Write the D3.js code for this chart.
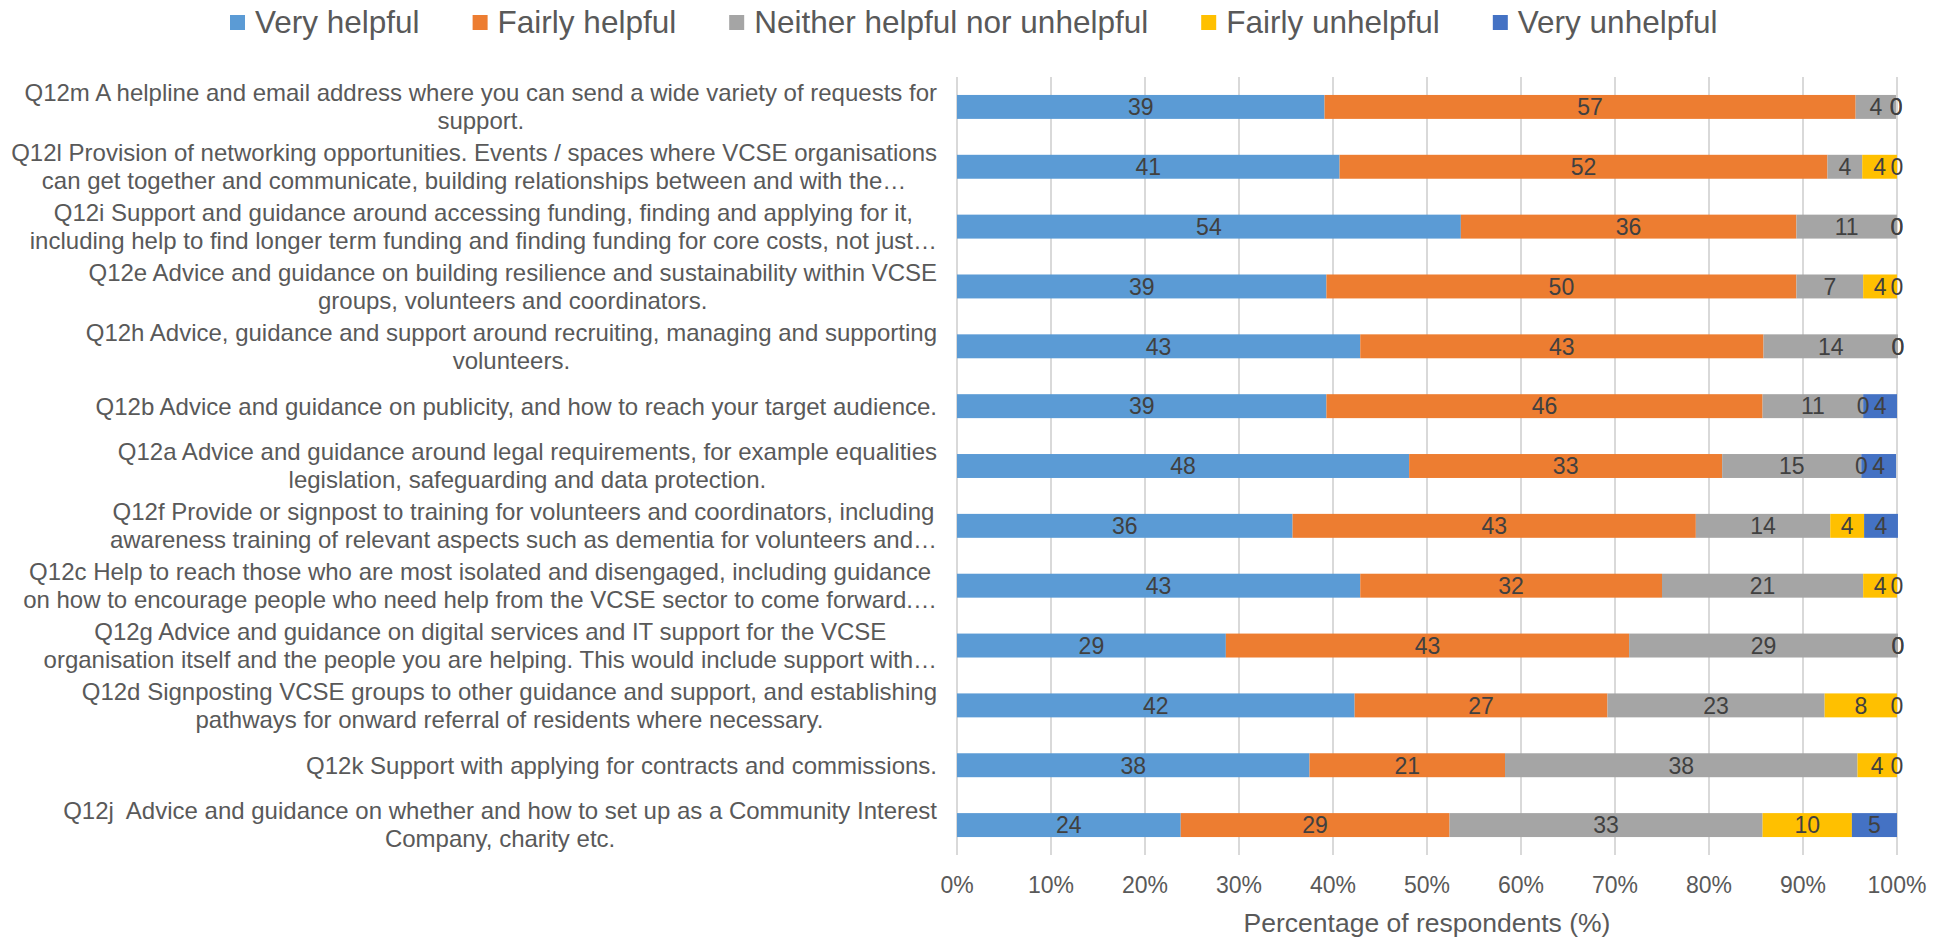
<!DOCTYPE html>
<html lang="en">
<head>
  <meta charset="UTF-8" />
  <title>Helpfulness of support - stacked bar</title>
  <style>
    body { margin: 0; background: #fff; font-family: "Liberation Sans", Arial, sans-serif; }
    svg { position: absolute; top: 0; left: 0; }
    .grid line { stroke: #d9d9d9; stroke-width: 2px; }
    .cat { font-size: 24px; fill: #595959; white-space: pre; }
    .tick-label { font-size: 23px; fill: #595959; }
    .axis-title { font-size: 26.5px; fill: #595959; }
    .legend text { font-size: 31.5px; fill: #595959; }
    .val { font-size: 23px; fill: #404040; }
  </style>
</head>
<body>

<svg id="chart"></svg>

<script src="https://d3js.org/d3.v7.min.js"></script>
<script>
  const width = 1952, height = 937;

  // category labels, already wrapped the way the original shows them
  const categories = [
    ["Q12m A helpline and email address where you can send a wide variety of requests for", "support."],
    ["Q12l Provision of networking opportunities. Events / spaces where VCSE organisations", "can get together and communicate, building relationships between and with the\u2026"],
    ["Q12i Support and guidance around accessing funding, finding and applying for it,", "including help to find longer term funding and finding funding for core costs, not just\u2026"],
    ["Q12e Advice and guidance on building resilience and sustainability within VCSE", "groups, volunteers and coordinators."],
    ["Q12h Advice, guidance and support around recruiting, managing and supporting", "volunteers."],
    ["Q12b Advice and guidance on publicity, and how to reach your target audience."],
    ["Q12a Advice and guidance around legal requirements, for example equalities", "legislation, safeguarding and data protection."],
    ["Q12f Provide or signpost to training for volunteers and coordinators, including", "awareness training of relevant aspects such as dementia for volunteers and\u2026"],
    ["Q12c Help to reach those who are most isolated and disengaged, including guidance", "on how to encourage people who need help from the VCSE sector to come forward.\u2026"],
    ["Q12g Advice and guidance on digital services and IT support for the VCSE", "organisation itself and the people you are helping. This would include support with\u2026"],
    ["Q12d Signposting VCSE groups to other guidance and support, and establishing", "pathways for onward referral of residents where necessary."],
    ["Q12k Support with applying for contracts and commissions."],
    ["Q12j  Advice and guidance on whether and how to set up as a Community Interest", "Company, charity etc."]
  ];

  const seriesNames = ["Very helpful", "Fairly helpful", "Neither helpful nor unhelpful", "Fairly unhelpful", "Very unhelpful"];
  const seriesColors = ["#5b9bd5", "#ed7d31", "#a5a5a5", "#ffc000", "#4472c4"];

  // % of respondents, one value per category (same order as categories)
  const veryHelpful     = [39.1, 40.7, 53.6, 39.3, 42.9, 39.3, 48.1, 35.7, 42.9, 28.6, 42.3, 37.5, 23.8];
  const fairlyHelpful   = [56.5, 51.9, 35.7, 50.0, 42.9, 46.4, 33.3, 42.9, 32.1, 42.9, 26.9, 20.8, 28.6];
  const neither         = [ 4.3,  3.7, 10.7,  7.1, 14.3, 10.7, 14.8, 14.3, 21.4, 28.6, 23.1, 37.5, 33.3];
  const fairlyUnhelpful = [ 0,    3.7,  0,    3.6,  0,    0,    0,    3.6,  3.6,  0,    7.7,  4.2,  9.5];
  const veryUnhelpful   = [ 0,    0,    0,    0,    0,    3.6,  3.7,  3.6,  0,    0,    0,    0,    4.8];

  const xTicks = [0, 10, 20, 30, 40, 50, 60, 70, 80, 90, 100];

  const seriesValues = [veryHelpful, fairlyHelpful, neither, fairlyUnhelpful, veryUnhelpful];
  const rows = categories.map((c, i) => {
    const r = { id: i };
    seriesNames.forEach((s, k) => r[s] = seriesValues[k][i]);
    return r;
  });

  const margin = { top: 77, left: 957, right: 55, bottom: 82 };

  const svg = d3.select("#chart").attr("width", width).attr("height", height);

  const x = d3.scaleLinear().domain([0, 100]).range([margin.left, width - margin.right]);
  const y = d3.scaleBand()
    .domain(rows.map(d => d.id))
    .range([margin.top, height - margin.bottom])
    .paddingInner(0.6)
    .paddingOuter(0.3);

  // gridlines
  svg.append("g").attr("class", "grid")
    .selectAll("line")
    .data(xTicks)
    .join("line")
    .attr("x1", d => x(d)).attr("x2", d => x(d))
    .attr("y1", margin.top).attr("y2", height - margin.bottom);

  // tick labels
  svg.append("g")
    .selectAll("text")
    .data(xTicks)
    .join("text")
    .attr("class", "tick-label")
    .attr("x", d => x(d))
    .attr("y", 885)
    .attr("dy", "0.35em")
    .attr("text-anchor", "middle")
    .text(d => d + "%");

  svg.append("text")
    .attr("class", "axis-title")
    .attr("x", (x(0) + x(100)) / 2)
    .attr("y", 923)
    .attr("dy", "0.35em")
    .attr("text-anchor", "middle")
    .text("Percentage of respondents (%)");

  // stacked bars
  const stack = d3.stack().keys(seriesNames);
  const stacked = stack(rows);

  const layer = svg.append("g")
    .selectAll("g")
    .data(stacked)
    .join("g")
    .attr("fill", (d, i) => seriesColors[i]);

  layer.selectAll("rect")
    .data(d => d)
    .join("rect")
    .attr("x", d => x(d[0]))
    .attr("y", d => y(d.data.id))
    .attr("width", d => x(d[1]) - x(d[0]))
    .attr("height", y.bandwidth());

  // data labels
  svg.append("g")
    .selectAll("g")
    .data(stacked)
    .join("g")
    .selectAll("text")
    .data(d => d.map(p => ({ p, key: d.key })))
    .join("text")
    .attr("class", "val")
    .attr("x", d => x((d.p[0] + d.p[1]) / 2))
    .attr("y", d => y(d.p.data.id) + y.bandwidth() / 2)
    .attr("dy", "0.36em")
    .attr("text-anchor", "middle")
    .text(d => Math.round(d.p.data[d.key]));

  // category labels: block right aligned, lines centred inside it
  const labelRight = 937;
  const lineH = 28;
  const catG = svg.append("g");
  categories.forEach((lines, i) => {
    const cy = y(i) + y.bandwidth() / 2;
    const g = catG.append("g");
    const texts = lines.map((ln, j) => g.append("text")
      .attr("class", "cat")
      .attr("y", cy + (j - (lines.length - 1) / 2) * lineH)
      .attr("dy", "0.35em")
      .attr("text-anchor", "middle")
      .text(ln));
    const w = d3.max(texts, t => t.node().getComputedTextLength());
    texts.forEach(t => t.attr("x", labelRight - w / 2));
  });

  // legend
  const legend = svg.append("g").attr("class", "legend");
  let lx = 230;
  seriesNames.forEach((s, i) => {
    legend.append("rect")
      .attr("x", lx).attr("y", 15)
      .attr("width", 15).attr("height", 15)
      .attr("fill", seriesColors[i]);
    const t = legend.append("text")
      .attr("x", lx + 25)
      .attr("y", 22)
      .attr("dy", "0.35em")
      .text(s);
    lx += 25 + t.node().getComputedTextLength() + 53;
  });
</script>

</body>
</html>
